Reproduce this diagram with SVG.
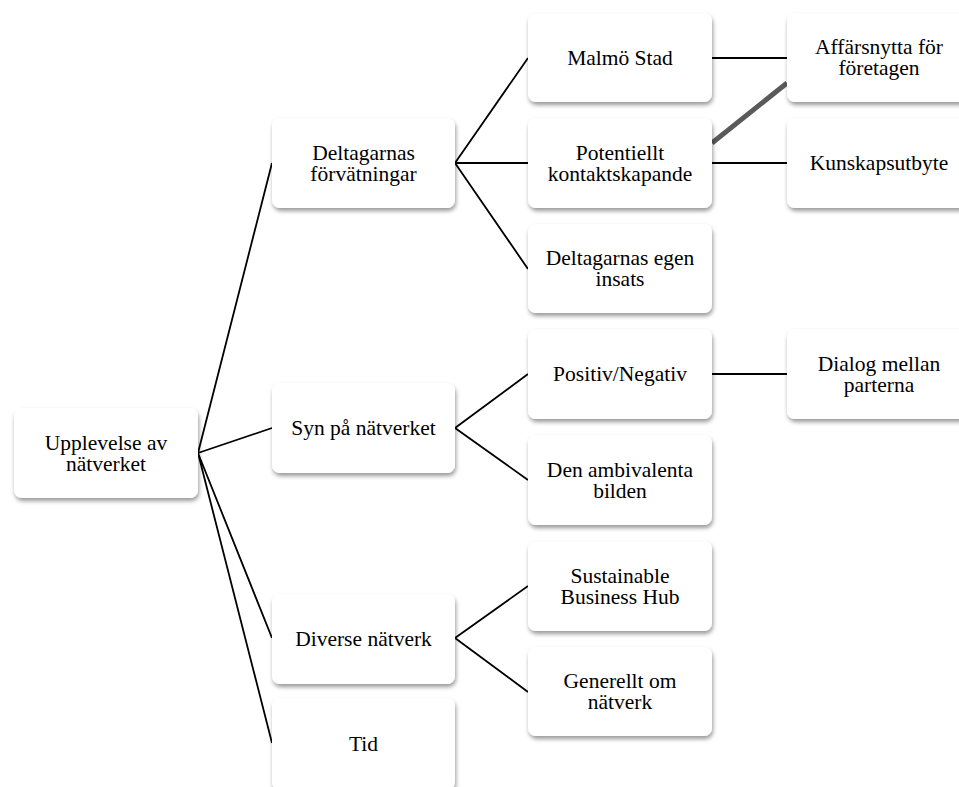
<svg xmlns="http://www.w3.org/2000/svg" width="959" height="787" viewBox="0 0 959 787">
<defs>
<style>
.box{fill:#ffffff;filter:url(#sh)}
.t{font-family:"Liberation Serif","DejaVu Serif",serif;font-size:21.5px;fill:#000;text-anchor:middle}
.c{stroke:#000;stroke-width:1.8;fill:none}
</style>
<filter id="sh" x="-10%" y="-10%" width="120%" height="130%">
<feDropShadow dx="1" dy="3" stdDeviation="2" flood-color="#000" flood-opacity="0.4"/>
</filter>
</defs>
<rect width="959" height="787" fill="#ffffff"/>
<g id="connectors">
<path class="c" d="M198 453L272 163M198 453L272 428M198 453L272 638M198 453L272 743"/>
<path class="c" d="M455 163L528 58M455 163L528 163M455 163L528 269"/>
<path class="c" d="M455 428L528 374M455 428L528 480"/>
<path class="c" d="M455 638L528 586M455 638L528 692"/>
<path class="c" d="M712 58L787 58M712 163L787 163M712 374L787 374"/>
<line x1="712" y1="143" x2="787" y2="83" stroke="#5a5a5a" stroke-width="5"/>
</g>
<g id="n-root"><rect class="box" x="14" y="408" width="184" height="90" rx="8"/><text class="t" x="106" y="450">Upplevelse av</text><text class="t" x="106" y="471">nätverket</text></g>
<g id="n-deltagarnas"><rect class="box" x="272" y="118" width="183" height="90" rx="8"/><text class="t" x="363.5" y="159.5">Deltagarnas</text><text class="t" x="363.5" y="180.5">förvätningar</text></g>
<g id="n-syn"><rect class="box" x="272" y="383" width="183" height="90" rx="8"/><text class="t" x="363.5" y="435">Syn på nätverket</text></g>
<g id="n-diverse"><rect class="box" x="272" y="594" width="183" height="90" rx="8"/><text class="t" x="363.5" y="646">Diverse nätverk</text></g>
<g id="n-tid"><rect class="box" x="272" y="698" width="183" height="92" rx="8"/><text class="t" x="363.5" y="751">Tid</text></g>
<g id="n-malmo"><rect class="box" x="528" y="13" width="184" height="89" rx="8"/><text class="t" x="620" y="65">Malmö Stad</text></g>
<g id="n-potentiellt"><rect class="box" x="528" y="118" width="184" height="90" rx="8"/><text class="t" x="620" y="159.5">Potentiellt</text><text class="t" x="620" y="180.5">kontaktskapande</text></g>
<g id="n-egen"><rect class="box" x="528" y="224" width="184" height="89" rx="8"/><text class="t" x="620" y="265">Deltagarnas egen</text><text class="t" x="620" y="286">insats</text></g>
<g id="n-positiv"><rect class="box" x="528" y="329" width="184" height="90" rx="8"/><text class="t" x="620" y="381">Positiv/Negativ</text></g>
<g id="n-ambivalenta"><rect class="box" x="528" y="435" width="184" height="90" rx="8"/><text class="t" x="620" y="476.5">Den ambivalenta</text><text class="t" x="620" y="497.5">bilden</text></g>
<g id="n-sbh"><rect class="box" x="528" y="541" width="184" height="90" rx="8"/><text class="t" x="620" y="582.5">Sustainable</text><text class="t" x="620" y="603.5">Business Hub</text></g>
<g id="n-generellt"><rect class="box" x="528" y="647" width="184" height="89" rx="8"/><text class="t" x="620" y="688">Generellt om</text><text class="t" x="620" y="709">nätverk</text></g>
<g id="n-affarsnytta"><rect class="box" x="787" y="13" width="184" height="89" rx="8"/><text class="t" x="879" y="54">Affärsnytta för</text><text class="t" x="879" y="75">företagen</text></g>
<g id="n-kunskap"><rect class="box" x="787" y="118" width="184" height="90" rx="8"/><text class="t" x="879" y="170">Kunskapsutbyte</text></g>
<g id="n-dialog"><rect class="box" x="787" y="329" width="184" height="90" rx="8"/><text class="t" x="879" y="370.5">Dialog mellan</text><text class="t" x="879" y="391.5">parterna</text></g>
</svg>
